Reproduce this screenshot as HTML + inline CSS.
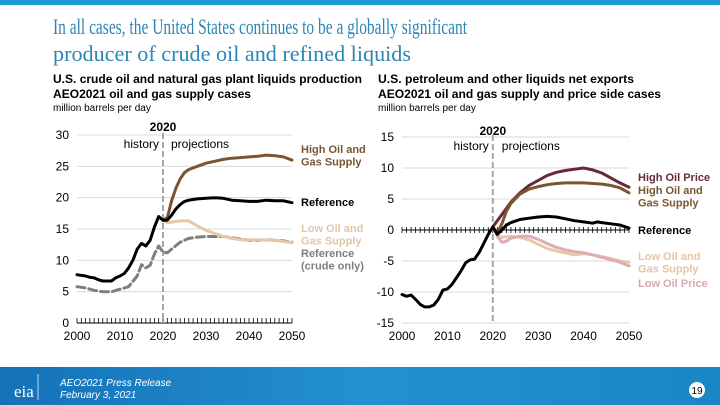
<!DOCTYPE html>
<html><head><meta charset="utf-8"><style>
html,body{margin:0;padding:0;background:#fff}
svg{display:block}
text{font-family:"Liberation Sans",Arial,sans-serif}
text.serif{font-family:"Liberation Serif","Times New Roman",serif}
</style></head><body>
<svg id="s" width="720" height="405" viewBox="0 0 720 405" xmlns="http://www.w3.org/2000/svg">
<defs><linearGradient id="fg" x1="0" x2="1"><stop offset="0" stop-color="#1572b8"/><stop offset="0.5" stop-color="#2390cf"/><stop offset="1" stop-color="#1a86c6"/></linearGradient></defs>
<rect x="0" y="0" width="720" height="5" fill="#1b98d5"/>
<text class="serif" font-size="22" fill="#2b86b5"><tspan x="53" y="34" textLength="414" lengthAdjust="spacingAndGlyphs">In all cases, the United States continues to be a globally significant</tspan><tspan x="53" y="61" textLength="358" lengthAdjust="spacingAndGlyphs">producer of crude oil and refined liquids</tspan></text>
<g font-size="12" font-weight="bold" fill="#000">
<text x="53" y="83" textLength="309" lengthAdjust="spacingAndGlyphs">U.S. crude oil and natural gas plant liquids production</text>
<text x="53" y="98" textLength="198" lengthAdjust="spacingAndGlyphs">AEO2021 oil and gas supply cases</text></g>
<text x="53" y="111" font-size="10">million barrels per day</text>
<g font-size="12" font-weight="bold" fill="#000">
<text x="378" y="83" textLength="256" lengthAdjust="spacingAndGlyphs">U.S. petroleum and other liquids net exports</text>
<text x="378" y="98" textLength="283" lengthAdjust="spacingAndGlyphs">AEO2021 oil and gas supply and price side cases</text></g>
<text x="378" y="111" font-size="10">million barrels per day</text>
<g id="L"></g><g id="R"></g>
<rect x="0" y="367" width="720" height="38" fill="url(#fg)"/>
<text class="serif" x="14" y="397" font-size="17" fill="#fff">eia</text>
<line x1="38" y1="374" x2="38" y2="400" stroke="#fff" stroke-width="0.7"/>
<text font-size="10" fill="#fff" font-style="italic"><tspan x="60" y="386">AEO2021 Press Release</tspan><tspan x="60" y="398">February 3, 2021</tspan></text>
<circle cx="697" cy="390" r="8" fill="#fff"/>
<text x="697" y="394" font-size="10" text-anchor="middle" fill="#000">19</text>
</svg>
<script>
// Left chart data
const lYears=[2000,2001,2002,2003,2004,2005,2006,2007,2008,2009,2010,2011,2012,2013,2014,2015,2016,2017,2018,2019,2020,2021,2022,2023,2024,2025,2026,2027,2028,2030,2032,2034,2036,2038,2040,2042,2044,2046,2048,2050];
const lRef=[7.7,7.6,7.5,7.3,7.2,6.9,6.7,6.7,6.7,7.2,7.5,7.9,8.8,10.0,11.8,12.7,12.3,13.2,15.3,17.0,16.4,16.4,17.2,18.2,18.9,19.4,19.6,19.7,19.8,19.9,20.0,19.9,19.6,19.5,19.4,19.4,19.6,19.5,19.5,19.2];
const lProjYears=[2020,2021,2022,2023,2024,2025,2026,2028,2030,2032,2034,2036,2038,2040,2042,2044,2046,2048,2050];
const lHigh=[16.4,16.8,19.5,21.5,23.0,24.0,24.5,25.0,25.5,25.8,26.1,26.3,26.4,26.5,26.6,26.8,26.7,26.5,26.0];
const lLowYears=[2020,2021,2022,2024,2026,2028,2030,2032,2034,2036,2038,2040,2042,2044,2046,2048,2050];
const lLow=[16.4,16.0,16.1,16.3,16.3,15.5,14.8,14.3,13.8,13.5,13.3,13.3,13.3,13.2,13.2,13.0,12.8];
const lCrudeYears=[2000,2002,2004,2006,2008,2010,2012,2014,2015,2016,2017,2018,2019,2020,2021,2022,2024,2026,2028,2030,2032,2034,2036,2038,2040,2042,2044,2046,2048,2050];
const lCrude=[5.8,5.6,5.2,5.0,5.0,5.4,5.8,7.5,9.3,8.8,9.2,11.0,12.3,11.3,11.2,11.8,12.9,13.5,13.7,13.8,13.8,13.8,13.6,13.4,13.2,13.2,13.3,13.2,13.1,12.9];
const lTicks=[0,5,10,15,20,25,30];
// Right chart data
const rYears=[2000,2001,2002,2003,2004,2005,2006,2007,2008,2009,2010,2011,2012,2013,2014,2015,2016,2017,2018,2019,2020,2021,2022,2023,2024,2026,2028,2030,2032,2034,2036,2038,2040,2042,2043,2044,2046,2048,2050];
const rRef=[-10.4,-10.7,-10.5,-11.2,-12.0,-12.4,-12.4,-12.1,-11.2,-9.7,-9.5,-8.8,-7.7,-6.6,-5.3,-4.8,-4.7,-3.6,-2.2,-0.7,0.5,-0.7,0,0.8,1.2,1.7,1.9,2.1,2.2,2.1,1.8,1.5,1.3,1.1,1.3,1.2,1.0,0.8,0.3];
const rPYears=[2020,2022,2024,2026,2028,2030,2032,2034,2036,2038,2040,2042,2044,2046,2048,2050];
const rHighPrice=[0.5,2.5,4.5,6.0,7.2,8.0,8.8,9.3,9.6,9.8,10.0,9.7,9.2,8.4,7.6,6.9];
const rSYears=[2020,2021,2022,2023,2024,2026,2028,2030,2032,2034,2036,2038,2040,2042,2044,2046,2048,2050];
const rHighSupply=[0.5,-0.5,1.0,3.0,4.3,5.8,6.6,7.0,7.3,7.5,7.6,7.6,7.6,7.5,7.4,7.2,6.8,6.0];
const rLowSupply=[0.5,-0.8,-1.2,-1.1,-1.0,-1.2,-1.6,-2.3,-3.0,-3.4,-3.7,-4.0,-3.8,-4.0,-4.3,-4.6,-5.0,-5.2];
const rLowPrice=[0.5,-1.0,-2.0,-1.8,-1.3,-1.0,-1.0,-1.5,-2.2,-2.8,-3.2,-3.5,-3.7,-4.0,-4.4,-4.8,-5.2,-5.8];
const rTicks=[-15,-10,-5,0,5,10,15];
const xTicks=[2000,2010,2020,2030,2040,2050];
const NS="http://www.w3.org/2000/svg";
function mk(p,t,a){const e=document.createElementNS(NS,t);for(const k in a)e.setAttribute(k,a[k]);p.appendChild(e);return e;}
function chart(g,x0,x1,y0,y1,vmin,vmax,ticks,zeroAxisVal,name,cross){
  const X=y=>x0+(y-2000)/50*(x1-x0);
  const Y=v=>y1-(v-vmin)/(vmax-vmin)*(y1-y0);
  ticks.forEach(t=>{
    const l=mk(g,'line',{x1:x0,x2:x1,y1:Y(t),y2:Y(t),stroke:'#d9d9d9','stroke-width':1});
    
    
    const tx=mk(g,'text',{x:x0-8,y:Y(t)+4,'font-size':12,'text-anchor':'end',fill:'#000'});tx.textContent=t;
    
    
  });
  const ay=Y(zeroAxisVal);
  const ax=mk(g,'line',{x1:x0,x2:x1,y1:ay,y2:ay,stroke:'#000','stroke-width':1});
  
  
  for(let yr=2000;yr<=2050;yr++){
    const tk=mk(g,'line',{x1:X(yr),x2:X(yr),y1:ay-(cross?3:5),y2:ay+(cross?3:0),stroke:'#000','stroke-width':0.8});
    
    
  }
  xTicks.forEach(t=>{
    const tx=mk(g,'text',{x:X(t),y:y1+17,'font-size':12,'text-anchor':'middle',fill:'#000'});tx.textContent=t;
    
    
  });
  const d=mk(g,'line',{x1:X(2020),x2:X(2020),y1:y0-2,y2:y1,stroke:'#a6a6a6','stroke-width':2,'stroke-dasharray':'6,3'});
  
  
  return {X,Y};
}
function series(g,s,xs,vs,color,w,nm,dash){
  const pts=xs.map((x,i)=>s.X(x).toFixed(1)+','+s.Y(vs[i]).toFixed(1)).join(' ');
  const p=mk(g,'polyline',{points:pts,fill:'none',stroke:color,'stroke-width':w,'stroke-linejoin':'round','stroke-linecap':'round'});
  if(dash)p.setAttribute('stroke-dasharray',dash);
  
  
}
function label(g,x,y,lines,color,nm){
  const t=mk(g,'text',{x:x,y:y,'font-size':11,'font-weight':'bold',fill:color});
  
  
  lines.forEach((l,i)=>{const ts=mk(t,'tspan',{x:x,dy:i?12.5:0});ts.textContent=l;});
}
const L=document.getElementById('L'),R=document.getElementById('R');
const sl=chart(L,77,292,135,323,0,30,lTicks,0,'left',false);
series(L,sl,lCrudeYears,lCrude,'#7f7f7f',3,'left-crude-only-line','8,4');
series(L,sl,lLowYears,lLow,'#e6c7a6',3,'left-low-oil-gas-line');
series(L,sl,lProjYears,lHigh,'#7b5530',3,'left-high-oil-gas-line');
series(L,sl,lYears,lRef,'#000',3,'left-reference-line');
[["2020",sl.X(2020),131,'bold'],["history",sl.X(2020)-4,148,'normal'],["projections",sl.X(2020)+8,148,'normal']].forEach((a,i)=>{
  const t=mk(L,'text',{x:a[1],y:a[2],'font-size':12,'font-weight':a[3],'text-anchor':i==0?'middle':(i==1?'end':'start')});t.textContent=a[0];
  
  
});
label(L,301,153,['High Oil and','Gas Supply'],'#7b5530','left-label-high-oil-gas');
label(L,301,206,['Reference'],'#000','left-label-reference');
label(L,301,232,['Low Oil and','Gas Supply'],'#e3c6a6','left-label-low-oil-gas');
label(L,301,257,['Reference','(crude only)'],'#7f7f7f','left-label-crude-only');
const sr=chart(R,402,629,137,323,-15,15,rTicks,0,'right',true);
series(R,sr,rSYears,rLowSupply,'#e6c7a6',3,'right-low-oil-gas-line');
series(R,sr,rSYears,rLowPrice,'#ddadb5',3,'right-low-price-line');
series(R,sr,rPYears,rHighPrice,'#6b2838',3,'right-high-price-line');
series(R,sr,rSYears,rHighSupply,'#7b5530',3,'right-high-oil-gas-line');
series(R,sr,rYears,rRef,'#000',3,'right-reference-line');
[["2020",sr.X(2020),135,'bold'],["history",sr.X(2020)-4,150,'normal'],["projections",sr.X(2020)+9,150,'normal']].forEach((a,i)=>{
  const t=mk(R,'text',{x:a[1],y:a[2],'font-size':12,'font-weight':a[3],'text-anchor':i==0?'middle':(i==1?'end':'start')});t.textContent=a[0];
  
  
});
label(R,638,181,['High Oil Price'],'#6b2838','right-label-high-price');
label(R,638,194,['High Oil and','Gas Supply'],'#7b5530','right-label-high-oil-gas');
label(R,638,234,['Reference'],'#000','right-label-reference');
label(R,638,260,['Low Oil and','Gas Supply'],'#e3c6a6','right-label-low-oil-gas');
label(R,638,287,['Low Oil Price'],'#d9a8b0','right-label-low-price');
</script>
</body></html>
